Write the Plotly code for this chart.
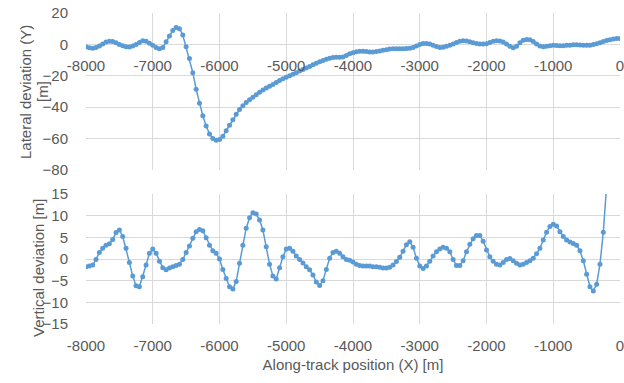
import plotly.graph_objects as go

x_top = list(range(-8000, 1, 50))
lateral_y = [
    -1.5, -2.2, -2.5, -2.0, -1.0, 0.3, 1.5, 2.0, 1.8, 1.0,
    0.0, -0.9, -1.5, -1.6, -1.0, 0.0, 1.2, 2.3, 2.0, 0.8,
    -0.6, -2.0, -2.8, -2.0, 1.7, 5.4, 8.8, 10.8, 10.0, 6.0,
    -1.5, -9.0, -18.0, -28.5, -37.5, -45.5, -52.0, -57.0, -60.0, -61.0,
    -60.5, -58.5, -55.0, -51.5, -48.0, -44.5, -41.5, -39.0, -37.0, -35.3,
    -33.6, -32.0, -30.5, -29.0, -27.7, -26.6, -25.5, -24.2, -23.0, -21.9,
    -20.9, -19.9, -19.0, -18.0, -17.0, -16.0, -15.0, -14.0, -13.0, -12.0,
    -11.0, -10.2, -9.5, -8.8, -8.3, -8.2, -8.2, -8.0, -7.0, -6.0,
    -5.3, -4.7, -4.3, -4.3, -4.5, -4.8, -4.8, -4.6, -4.2, -3.8,
    -3.4, -3.0, -2.8, -2.7, -2.7, -2.7, -2.6, -2.4, -2.0, -1.0,
    -0.1, 0.5, 0.6, 0.2, -0.6, -1.4, -1.9, -1.8, -1.2, -0.5,
    0.3, 1.2, 2.0, 2.3, 2.2, 1.7, 1.0, 0.5, 0.2, 0.2,
    0.4, 1.2, 2.0, 2.3, 2.2, 1.5, 0.2, -1.2, -2.2, -1.2,
    1.0, 2.6, 3.2, 2.9, 1.8, 0.2, -1.0, -1.5, -1.2, -0.8,
    -0.6, -0.7, -0.8, -0.8, -0.6, -0.5, -0.3, -0.3, -0.4, -0.6,
    -0.6, -0.5, 0.0, 0.4, 1.0, 1.8, 2.5, 3.0, 3.4, 3.7,
    3.8,
]

x_bot = list(range(-8000, -199, 50))
vertical_z = [
    -1.8, -1.6, -1.4, -0.1, 1.5, 2.5, 3.2, 3.5, 4.5, 6.1,
    6.7, 5.2, 2.5, -0.8, -3.9, -6.2, -6.4, -4.1, -1.4, 1.3,
    2.3, 1.3, -0.5, -2.0, -2.5, -2.1, -1.8, -1.5, -1.2, -0.1,
    1.5, 3.0, 4.8, 6.3, 6.8, 6.5, 4.9, 3.2, 1.9, 1.3,
    0.0, -2.4, -4.5, -6.4, -6.9, -5.2, -1.0, 3.2, 7.1, 9.5,
    10.7, 10.4, 9.0, 6.7, 2.8, -1.2, -3.9, -4.6, -2.0, 0.5,
    2.3, 2.5, 1.8, 0.7, -0.1, -0.9, -1.8, -2.5, -3.7, -5.3,
    -6.1, -5.0, -2.4, 0.2, 1.5, 1.8, 1.3, 0.5, -0.1, -0.3,
    -0.7, -1.2, -1.5, -1.6, -1.6, -1.6, -1.8, -1.8, -1.9, -2.1,
    -2.1, -1.9, -1.4, -0.6, 0.4, 1.8, 3.3, 4.0, 2.7, 0.2,
    -1.6, -2.2, -1.6, -0.5, 0.7, 1.7, 2.3, 2.7, 2.5, 1.7,
    -0.1, -1.5, -1.5, -0.4, 1.7, 3.4, 4.7, 5.4, 5.4, 4.1,
    2.1, 0.5, -0.5, -1.2, -1.4, -0.8, -0.1, 0.1, -0.4, -1.0,
    -1.4, -1.2, -0.8, -0.4, 0.2, 1.2, 2.5, 4.4, 6.2, 7.5,
    8.0, 7.6, 6.3, 5.2, 4.4, 3.9, 3.6, 3.2, 1.9, -0.4,
    -3.5, -6.4, -7.4, -5.8, -1.2, 6.2, 17.0,
]

x_ticks = list(range(-8000, 1, 1000))

BLUE = "#5B9BD5"
GRID = "#d9d9d9"
TXT = "#595959"
FONT = "Liberation Sans"
CLEAR = "rgba(0,0,0,0)"

W, H = 624, 383
ml, mr, mt, mb = 86, 4, 13, 59
ph = H - mt - mb
top_lo = (H - mb - 170) / ph
bot_hi = (H - mb - 194) / ph
top_range = [-80, 20]
zero_frac = top_lo + (0 - top_range[0]) / (top_range[1] - top_range[0]) * (1 - top_lo)


def py(pix):
    return (H - mb - pix) / ph


fig = go.Figure()
fig.add_trace(go.Scatter(x=x_top, y=lateral_y, mode="lines+markers",
                         line=dict(color=BLUE, width=1.5),
                         marker=dict(color=BLUE, size=5),
                         xaxis="x", yaxis="y", showlegend=False))
fig.add_trace(go.Scatter(x=x_bot, y=vertical_z, mode="lines+markers",
                         line=dict(color=BLUE, width=1.5),
                         marker=dict(color=BLUE, size=5),
                         xaxis="x2", yaxis="y2", showlegend=False))

tickfont = dict(family=FONT, size=15, color=TXT)
titlefont = dict(family=FONT, size=15, color=TXT)
xtick = dict(ticks="outside", ticklen=8, tickcolor=CLEAR, ticklabeloverflow="allow",
             automargin=False)
ytick = dict(ticks="outside", ticklen=14, tickcolor=CLEAR, automargin=False)

fig.update_layout(
    width=W, height=H,
    margin=dict(l=ml, r=mr, t=mt, b=mb),
    paper_bgcolor="white", plot_bgcolor="white",
    xaxis=dict(range=[-8000, 0], tickvals=x_ticks, ticktext=[str(v) for v in x_ticks],
               anchor="free", position=zero_frac, showgrid=True, gridcolor=GRID,
               zeroline=False, showline=False, tickfont=tickfont, **xtick),
    yaxis=dict(domain=[top_lo, 1], range=top_range, dtick=20, tick0=0,
               showgrid=True, gridcolor=GRID, zeroline=False, showline=False,
               tickfont=tickfont, **ytick),
    xaxis2=dict(range=[-8000, 0], tickvals=x_ticks, ticktext=[str(v) for v in x_ticks],
                anchor="y2", showgrid=True, gridcolor=GRID, zeroline=False,
                showline=False, tickfont=tickfont, **xtick,
                title=dict(text="Along-track position (X) [m]", font=titlefont, standoff=6)),
    yaxis2=dict(domain=[0, bot_hi], range=[-15, 15], dtick=5, tick0=0, anchor="x2",
                showgrid=True, gridcolor=GRID, zeroline=False, showline=False,
                tickfont=tickfont, **ytick),
)

ytitles = [
    ("Lateral deviation (Y)", 25, 92),
    ("[m]", 42, 92),
    ("Vertical deviation [m]", 38, 268),
]
for text, px_x, px_y in ytitles:
    fig.add_annotation(text=text, xref="paper", yref="paper", x=0, y=py(px_y),
                       xshift=px_x - ml, xanchor="center", yanchor="middle",
                       textangle=-90, showarrow=False, font=titlefont)

fig.write_html("out.html")
